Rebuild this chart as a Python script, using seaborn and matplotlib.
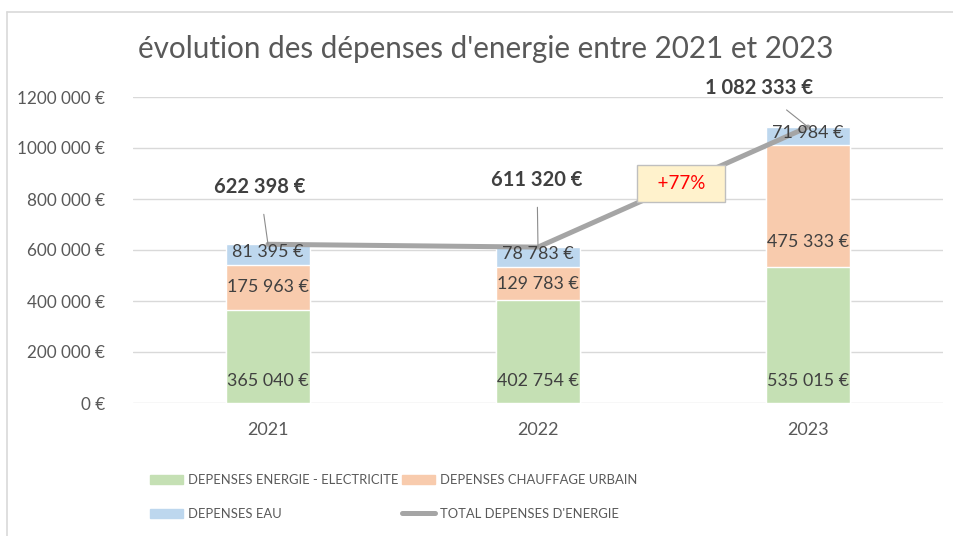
import pandas as pd
import seaborn as sns
import matplotlib.pyplot as plt
from matplotlib.patches import Patch
from matplotlib.lines import Line2D

# Data
years = ['2021', '2022', '2023']
electricite = [365040, 402754, 535015]
chauffage = [175963, 129783, 475333]
eau = [81395, 78783, 71984]
totals = [622398, 611320, 1082333]
y_ticks = [0, 200000, 400000, 600000, 800000, 1000000, 1200000]

title = "évolution des dépenses d'energie entre 2021 et 2023"
lbl_elec = 'DEPENSES ENERGIE - ELECTRICITE'
lbl_chauf = 'DEPENSES CHAUFFAGE URBAIN'
lbl_eau = 'DEPENSES EAU'
lbl_total = "TOTAL DEPENSES D'ENERGIE"

c_elec = '#C5E0B4'
c_chauf = '#F8CBAD'
c_eau = '#BDD7EE'
c_line = '#A5A5A5'
c_txt = '#595959'
c_dark = '#404040'

sns.set_theme(style='white')
plt.rcParams['font.family'] = ['Lato', 'DejaVu Sans']
leg_size = 9.4


def euro(v):
    return f"{v:,}".replace(',', ' ') + ' €'


def tick_fmt(v):
    if v == 0:
        return '0 €'
    return f"{v // 1000} 000 €"


df = pd.DataFrame({'year': years, 'elec': electricite, 'chauf': chauffage, 'eau': eau})
df['cum2'] = df['elec'] + df['chauf']
df['cum3'] = df['cum2'] + df['eau']

fig = plt.figure(figsize=(9.54, 5.36), dpi=100)
ax = fig.add_axes([133 / 954, 1 - 403 / 536, 810 / 954, 306 / 536])

# stacked bars: draw cumulative heights back to front
sns.barplot(data=df, x='year', y='cum3', color=c_eau, width=0.31, saturation=1, ax=ax, zorder=2)
sns.barplot(data=df, x='year', y='cum2', color=c_chauf, width=0.31, saturation=1, ax=ax, zorder=2)
sns.barplot(data=df, x='year', y='elec', color=c_elec, width=0.31, saturation=1, ax=ax, zorder=2)

# total line
ax.plot(range(len(years)), totals, color=c_line, lw=3.6, solid_capstyle='round', zorder=4)

ax.set_xlim(-0.5, 2.5)
ax.set_ylim(0, 1200000)
ax.set_yticks(y_ticks)
ax.set_yticklabels([tick_fmt(v) for v in y_ticks])
ax.yaxis.grid(True, color='#D9D9D9', lw=1)
ax.set_axisbelow(True)
for s in ax.spines.values():
    s.set_visible(False)
ax.tick_params(axis='y', length=0, pad=20, labelsize=12.3, labelcolor=c_txt)
ax.tick_params(axis='x', length=0, pad=14, labelsize=13, labelcolor=c_txt)
ax.set_xlabel('')
ax.set_ylabel('')

# segment labels
fs_seg = 12.9
orange_frac = [0.5, 0.5, 0.2]
for i in range(len(years)):
    ax.annotate(euro(electricite[i]), (i, 0), xytext=(0, 22), textcoords='offset pixels',
                ha='center', va='center', fontsize=fs_seg, color=c_dark, zorder=5)
    ax.annotate(euro(chauffage[i]), (i, electricite[i] + orange_frac[i] * chauffage[i]),
                ha='center', va='center', fontsize=fs_seg, color=c_dark, zorder=5)
    ax.annotate(euro(eau[i]), (i, df['cum2'][i] + eau[i] / 2), xytext=(0, 3),
                textcoords='offset pixels', ha='center', va='center', fontsize=fs_seg,
                color=c_dark, zorder=5)

# total labels with leader lines
offsets = [(-8, 57), (-1, 67), (-49, 39)]
for i in range(len(years)):
    ax.annotate(euro(totals[i]), (i, totals[i]), xytext=offsets[i], textcoords='offset pixels',
                ha='center', va='center', fontsize=14.5, fontweight='bold', color=c_dark,
                arrowprops=dict(arrowstyle='-', color='#8C8C8C', lw=0.8, shrinkA=10, shrinkB=0),
                zorder=6)

# growth box on the line
pct = round((totals[2] / totals[1] - 1) * 100)
xb = 1.53
yb = totals[1] + (xb - 1) * (totals[2] - totals[1])
ax.text(xb, yb, f"  +{pct}%  ", ha='center', va='center', fontsize=13.5, color='#FF0000',
        bbox=dict(boxstyle='square,pad=0.55', fc='#FFF2CC', ec='#BFBFBF', lw=1), zorder=7)

# title
fig.text(486 / 954, 1 - 49 / 536, title, ha='center', va='center', fontsize=21.3, color=c_txt)

# legend, one per column
px = leg_size * 100 / 72
leg_kw = dict(loc='upper left', frameon=False, fontsize=leg_size, labelcolor=c_txt,
              handlelength=33 / px, handleheight=0.75, handletextpad=0.35,
              labelspacing=35 / px - 1, borderaxespad=0, borderpad=0)
leg1 = fig.legend([Patch(color=c_elec), Patch(color=c_eau)], [lbl_elec, lbl_eau],
                  bbox_to_anchor=(150 / 954, 1 - 474 / 536), **leg_kw)
leg2 = fig.legend([Patch(color=c_chauf), Line2D([0], [0], color=c_line, lw=3.6)],
                  [lbl_chauf, lbl_total], bbox_to_anchor=(402 / 954, 1 - 474 / 536), **leg_kw)

# chart border (left and top)
fig.add_artist(Line2D([7 / 954, 7 / 954], [0, 1 - 12 / 536], color='#D9D9D9', lw=1.2))
fig.add_artist(Line2D([7 / 954, 1], [1 - 12 / 536, 1 - 12 / 536], color='#D9D9D9', lw=1.2))

fig.savefig('out.png', dpi=100, facecolor='white')
